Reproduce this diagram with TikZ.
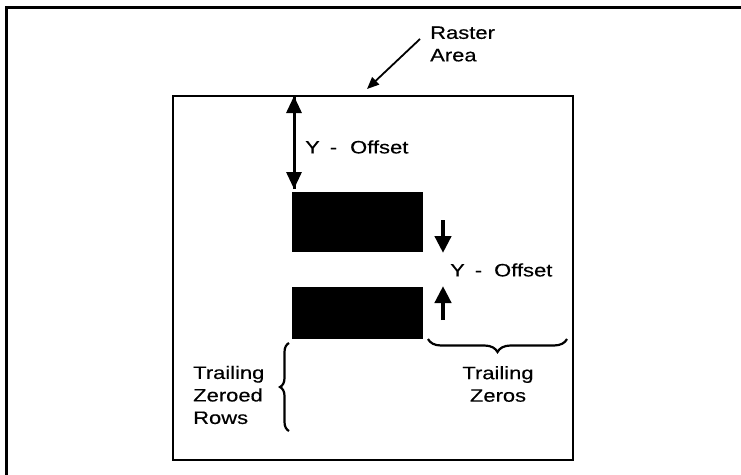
\documentclass[tikz,border=0pt]{standalone}
\usepackage{fontspec}
\setmainfont{Liberation Sans}[FakeStretch=1.22,FakeBold=0.4]
\usetikzlibrary{arrows.meta,decorations.pathreplacing}
\begin{document}
\begin{tikzpicture}[x=1pt,y=-1pt,
  lbl/.style={font=\fontsize{18}{22.5}\selectfont, inner sep=0pt},
  blk/.style={fill=black, draw=none, inner sep=0pt, anchor=north west},
  bigarrow/.style={line width=3pt, -{Triangle[length=17pt,width=15pt]}},
  smallarrow/.style={line width=4.5pt, -{Triangle[length=17pt,width=16pt]}},
  thinarrow/.style={line width=1.8pt, -{Triangle[length=12pt,width=10pt]}},
  bracestyle/.style={decorate, line width=2.2pt},
]
\useasboundingbox (0,0) rectangle (741,474);
% outer frame
\draw[line width=3pt] (6,480) -- (6,7) -- (745,7);
% raster area
\node[draw, line width=2pt, minimum width=400pt, minimum height=364pt,
      anchor=north west, inner sep=0pt] (raster) at (172,95) {};
% black bars
\node[blk, minimum width=131pt, minimum height=60pt] (bar1) at (292,192) {};
\node[blk, minimum width=131pt, minimum height=52pt] (bar2) at (292,287) {};
% top Y-offset
\coordinate (ytop) at (294,96);
\coordinate (ybot) at (294,189);
\draw[bigarrow] (ytop) -- (ybot);
\draw[bigarrow] (ybot) -- (ytop);
\node[lbl, anchor=west] (yoff1) at (305,147) {Y\hspace{10pt}-\hspace{13pt}Offset};
% gap Y-offset
\coordinate (d1) at (443,220);
\coordinate (d2) at (443,253);
\coordinate (u1) at (443,320);
\coordinate (u2) at (443,286);
\draw[smallarrow] (d1) -- (d2);
\draw[smallarrow] (u1) -- (u2);
\node[lbl, anchor=west] (yoff2) at (450,270) {Y\hspace{10pt}-\hspace{12pt}Offset};
% raster area label
\node[lbl, anchor=west, align=left] (rlabel) at (430,44) {Raster\\Area};
\coordinate (ra) at (420,39);
\draw[thinarrow] (ra) -- (367,89);
% trailing zeros brace
\coordinate (b1) at (428,339);
\coordinate (b2) at (567,339);
\draw[bracestyle, decoration={brace, amplitude=13pt, mirror}] (b1) -- (b2);
\node[lbl, align=center] (tz) at (498,384) {Trailing\\Zeros};
% trailing zeroed rows brace
\coordinate (c1) at (289,431);
\coordinate (c2) at (289,343);
\draw[bracestyle, decoration={brace, amplitude=9pt}] (c1) -- (c2);
\node[lbl, anchor=west, align=left] (tzr) at (193,395) {Trailing\\Zeroed\\Rows};
\end{tikzpicture}
\end{document}
